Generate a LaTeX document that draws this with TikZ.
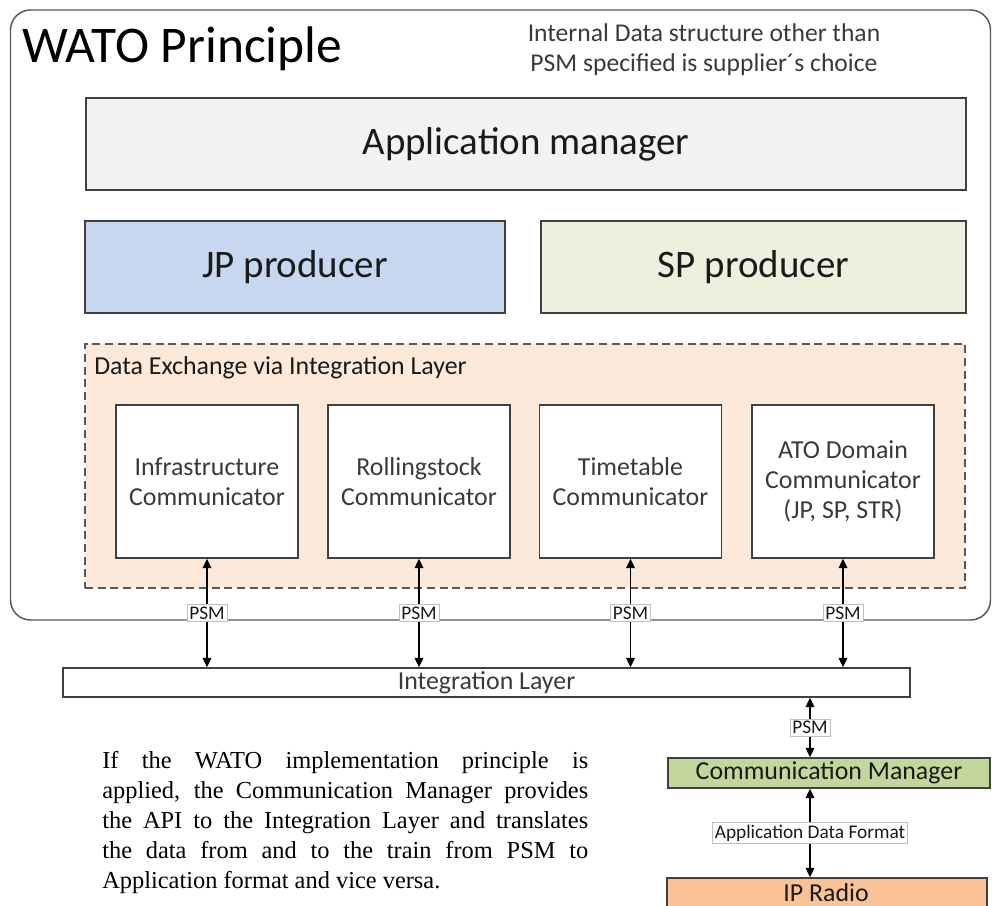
\documentclass[tikz,border=0pt]{standalone}
\usepackage{fontspec}
\setmainfont{Carlito}
\newfontfamily\parafont{Liberation Serif}
\usetikzlibrary{arrows.meta}
\definecolor{outline}{HTML}{595959}
\definecolor{boxline}{HTML}{404040}
\definecolor{lblline}{HTML}{BFBFBF}
\definecolor{txt}{HTML}{1A1A1A}
\definecolor{notetxt}{HTML}{3A3A3A}
\definecolor{appfill}{HTML}{F2F2F2}
\definecolor{jpfill}{HTML}{C6D7EF}
\definecolor{spfill}{HTML}{EBF1DE}
\definecolor{dxfill}{HTML}{FDE9D9}
\definecolor{cmfill}{HTML}{C3D69B}
\definecolor{ipfill}{HTML}{F9C397}
\begin{document}
\begin{tikzpicture}[x=0.75pt,y=-0.75pt,
  box/.style={draw=boxline, line width=1.1pt, inner sep=0pt, text=txt, align=center},
  bigtext/.style={font=\fontsize{29.2}{34}\selectfont},
  midtext/.style={font=\fontsize{19.4}{22.5}\selectfont},
  commbox/.style={box, fill=white, minimum width=136.5pt, minimum height=114.75pt, midtext, text=notetxt},
  psm/.style={fill=white, draw=lblline, line width=0.5pt, inner sep=1.6pt, font=\fontsize{14.5}{15}\selectfont, text=txt},
  link/.style={line width=0.9pt, draw=black, {Triangle[length=7pt,width=6.5pt]}-{Triangle[length=7pt,width=6.5pt]}}
]
\clip (0,0) rectangle (992,906);
\fill[white] (0,0) rectangle (992,906);

% outer container
\node[draw=outline, line width=1.1pt, rounded corners=15pt, minimum width=735pt, minimum height=457.5pt, inner sep=0pt] (outer) at (500.5,315) {};
\node[anchor=base west, inner sep=0pt, font=\fontsize{38.6}{42}\selectfont, text=black] (title) at (22,63) {WATO Principle};
\node[inner sep=0pt, align=center, font=\fontsize{19.2}{22.3}\selectfont, text=notetxt] (note) at (704,50) {Internal Data structure other than\\PSM specified is supplier´s choice};

% top boxes
\node[box, fill=appfill, minimum width=660pt, minimum height=69pt, bigtext] (app) at (526,144) {Application manager};
\node[box, fill=jpfill, minimum width=315pt, minimum height=69pt, bigtext] (jp) at (295,267) {JP producer};
\node[box, fill=spfill, minimum width=318.75pt, minimum height=69pt, bigtext] (sp) at (753.5,267) {SP producer};

% data exchange area
\node[draw=outline, dashed, dash pattern=on 6pt off 3.5pt, line width=1.1pt, fill=dxfill, minimum width=660pt, minimum height=183pt, inner sep=0pt] (dx) at (525,466) {};
\node[anchor=base west, inner sep=0pt, midtext, text=txt] (dxlabel) at (94,374) {Data Exchange via Integration Layer};

\node[commbox] (c1) at (207,481.5) {Infrastructure\\Communicator};
\node[commbox] (c2) at (419,481.5) {Rollingstock\\Communicator};
\node[commbox] (c3) at (630.5,481.5) {Timetable\\Communicator};
\node[commbox] (c4) at (843,481.5) {ATO Domain\\Communicator\\(JP, SP, STR)};

% integration layer
\node[box, fill=white, minimum width=635.25pt, minimum height=21.75pt, midtext, text=notetxt] (il) at (486.5,682.5) {Integration Layer};

\foreach \c in {c1,c2,c3,c4}{
  \draw[link] (\c.south) -- (\c.south |- il.north) node[psm, midway] {PSM};
}

% right column
\node[box, fill=cmfill, minimum width=241.5pt, minimum height=22.5pt, midtext] (cm) at (829,773) {Communication Manager};
\node[box, fill=ipfill, minimum width=240pt, minimum height=22.5pt] (ip) at (827,893) {};
\node[anchor=base, inner sep=0pt, font=\fontsize{19.4}{22}\selectfont, text=txt] (iptext) at (826,901) {IP Radio};
\coordinate (rx) at (810,0);
\draw[link] (il.south -| rx) -- (cm.north -| rx) node[psm, midway] {PSM};
\draw[link] (cm.south -| rx) -- (ip.north -| rx) node[psm, midway] {Application Data Format};

% paragraph
\node[anchor=north west, inner sep=0pt, text width=364.5pt, align=justify, font=\parafont\fontsize{18.3}{22.5}\selectfont, text=black] (para) at (102,751) {If the WATO implementation principle is\linebreak applied, the Communication Manager provides\linebreak the API to the Integration Layer and translates\linebreak the data from and to the train from PSM to\linebreak Application format and vice versa.};
\end{tikzpicture}
\end{document}
